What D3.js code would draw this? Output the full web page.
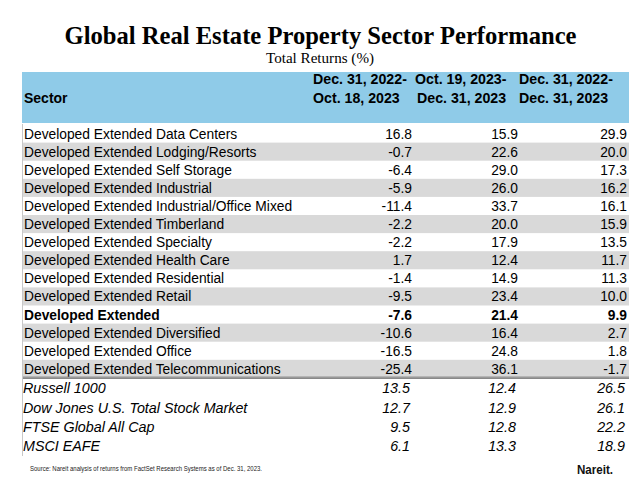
<!DOCTYPE html>
<html><head><meta charset="utf-8">
<script src="https://cdn.jsdelivr.net/npm/d3@7"></script>
<style>html,body{margin:0;padding:0;background:#fff;}svg{display:block;}</style>
</head><body>
<script>
const title = "Global Real Estate Property Sector Performance";
const subtitle = "Total Returns (%)";
const columnHeaders = [["Dec. 31, 2022-","Oct. 18, 2023"],["Oct. 19, 2023-","Dec. 31, 2023"],["Dec. 31, 2022-","Dec. 31, 2023"]];
const sectors = ["Developed Extended Data Centers","Developed Extended Lodging/Resorts","Developed Extended Self Storage","Developed Extended Industrial","Developed Extended Industrial/Office Mixed","Developed Extended Timberland","Developed Extended Specialty","Developed Extended Health Care","Developed Extended Residential","Developed Extended Retail","Developed Extended","Developed Extended Diversified","Developed Extended Office","Developed Extended Telecommunications"];
const period1 = [16.8,-0.7,-6.4,-5.9,-11.4,-2.2,-2.2,1.7,-1.4,-9.5,-7.6,-10.6,-16.5,-25.4];
const period2 = [15.9,22.6,29.0,26.0,33.7,20.0,17.9,12.4,14.9,23.4,21.4,16.4,24.8,36.1];
const period3 = [29.9,20.0,17.3,16.2,16.1,15.9,13.5,11.7,11.3,10.0,9.9,2.7,1.8,-1.7];
const indices = ["Russell 1000","Dow Jones U.S. Total Stock Market","FTSE Global All Cap","MSCI EAFE"];
const idxPeriod1 = [13.5,12.7,9.5,6.1];
const idxPeriod2 = [12.4,12.9,12.8,13.3];
const idxPeriod3 = [26.5,26.1,22.2,18.9];
const boldRow = "Developed Extended";
const source = "Source: Nareit analysis of returns from FactSet Research Systems as of Dec. 31, 2023.";

const W = 640, H = 487;
const svg = d3.select("body").append("svg").attr("width", W).attr("height", H);
const fmt = d3.formatLocale({decimal:".", thousands:",", grouping:[3], currency:["$",""], minus:"-"}).format(".1f");
const SANS = "'Liberation Sans', Arial, sans-serif";
const SERIF = "'Liberation Serif', 'Times New Roman', serif";

const L = 22, R = 629;
// title
svg.append("text").attr("x", 320.5).attr("y", 44).attr("text-anchor","middle")
  .attr("font-family", SERIF).attr("font-weight","bold").attr("font-size", 25)
  .attr("textLength", 512).attr("lengthAdjust","spacingAndGlyphs").attr("fill","#000").text(title);
svg.append("text").attr("x", 320).attr("y", 63).attr("text-anchor","middle")
  .attr("font-family", SERIF).attr("font-size", 14.5)
  .attr("textLength", 108).attr("lengthAdjust","spacingAndGlyphs").attr("fill","#000").text(subtitle);

// header
svg.append("rect").attr("x", L).attr("y", 72).attr("width", R - L).attr("height", 51).attr("fill", "#8fcbe8");
svg.append("text").attr("x", 24).attr("y", 103).attr("font-family", SANS).attr("font-weight","bold")
  .attr("font-size", 14).attr("fill","#000").text("Sector");
const colIdx = [0,1,2];
const headerX = d3.scaleOrdinal().domain(colIdx).range([313, 415, 519]);
const valueX = d3.scaleOrdinal().domain(colIdx).range([412, 518, 627]);
columnHeaders.forEach((lines, c) => {
  lines.forEach((ln, k) => {
    svg.append("text").attr("x", headerX(c) + (c===1 && k===1 ? 2 : 0)).attr("y", 84 + k*19)
      .attr("font-family", SANS).attr("font-weight","bold").attr("font-size", 14.2).attr("fill","#000").text(ln);
  });
});

// main rows
const yMain = d3.scaleBand().domain(sectors).range([124.5, 377.9]);
const mainSeries = [period1, period2, period3];
const g = svg.append("g");
sectors.forEach((s, i) => {
  const y = yMain(s), h = yMain.bandwidth();
  if (i % 2 === 1) g.append("rect").attr("x", L).attr("y", y).attr("width", R - L).attr("height", h).attr("fill", "#d9d9d9");
  const bold = s === boldRow;
  g.append("text").attr("x", 24).attr("y", y + h/2 + 5).attr("font-family", SANS)
    .attr("font-weight", bold ? "bold" : "normal").attr("font-size", 13.8).attr("fill","#000").text(s);
  mainSeries.forEach((arr, c) => {
    g.append("text").attr("x", valueX(c)).attr("y", y + h/2 + 5).attr("text-anchor","end")
      .attr("font-family", SANS).attr("font-weight", bold ? "bold" : "normal").attr("font-size", 13.8)
      .attr("fill","#000").text(fmt(arr[i]));
  });
});
// double separator line
svg.append("rect").attr("x", L).attr("y", 376.6).attr("width", R - L).attr("height", 2.4).attr("fill", "#7f7f7f");
svg.append("line").attr("x1", L).attr("x2", R).attr("y1", 377.8).attr("y2", 377.8).attr("stroke", "#bdbdbd").attr("stroke-width", 0.6);

// index rows
const yIdx = d3.scaleBand().domain(indices).range([378.4, 455.6]);
const idxSeries = [idxPeriod1, idxPeriod2, idxPeriod3];
indices.forEach((s, i) => {
  const y = yIdx(s), h = yIdx.bandwidth();
  g.append("text").attr("x", 23).attr("y", y + h/2 + 5.3).attr("font-family", SANS)
    .attr("font-style","italic").attr("font-size", 14.3).attr("fill","#000").text(s);
  idxSeries.forEach((arr, c) => {
    g.append("text").attr("x", valueX(c) - 2).attr("y", y + h/2 + 5.3).attr("text-anchor","end")
      .attr("font-family", SANS).attr("font-style","italic").attr("font-size", 14.3)
      .attr("fill","#000").text(fmt(arr[i]));
  });
});
// left border
svg.append("line").attr("x1", L + 0.5).attr("x2", L + 0.5).attr("y1", 124).attr("y2", 456)
  .attr("stroke", "#c8c8c8").attr("stroke-width", 1);

// footer
svg.append("text").attr("x", 30).attr("y", 471).attr("font-family", SANS).attr("font-size", 6.3)
  .attr("textLength", 232).attr("lengthAdjust","spacingAndGlyphs").attr("fill","#222").text(source);
svg.append("text").attr("x", 577).attr("y", 474).attr("font-family", SANS).attr("font-weight","bold")
  .attr("font-size", 12.5).attr("fill","#111").attr("textLength", 36).attr("lengthAdjust","spacingAndGlyphs").text("Nareit.");
</script>
</body></html>
